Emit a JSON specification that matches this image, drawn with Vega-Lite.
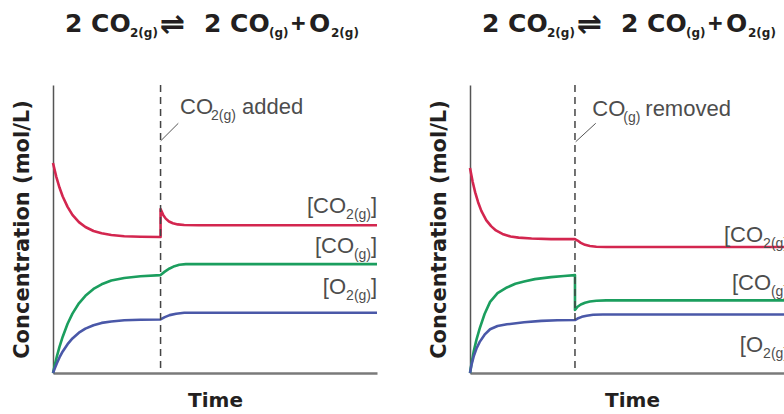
{
"$schema": "https://vega.github.io/schema/vega-lite/v6.json",
"background": "white",
"padding": {"left": 10, "top": 10, "right": 0, "bottom": 0},
"spacing": 48,
"config": {"view": {"stroke": null}, "axis": {"grid": false, "labels": false, "ticks": false, "titleFont": "DejaVu Sans", "titleFontWeight": "bold", "titleColor": "#231f20"}},
"datasets": {
"curves": [
{"p":"L","s":"CO2","i":0,"t":0,"c":7.29},{"p":"L","s":"CO2","i":1,"t":0.1,"c":6.82},{"p":"L","s":"CO2","i":2,"t":0.2,"c":6.44},{"p":"L","s":"CO2","i":3,"t":0.3,"c":6.13},{"p":"L","s":"CO2","i":4,"t":0.45,"c":5.77},{"p":"L","s":"CO2","i":5,"t":0.6,"c":5.49},{"p":"L","s":"CO2","i":6,"t":0.8,"c":5.24},{"p":"L","s":"CO2","i":7,"t":1.0,"c":5.07},{"p":"L","s":"CO2","i":8,"t":1.25,"c":4.93},{"p":"L","s":"CO2","i":9,"t":1.5,"c":4.85},{"p":"L","s":"CO2","i":10,"t":1.8,"c":4.79},{"p":"L","s":"CO2","i":11,"t":2.2,"c":4.75},{"p":"L","s":"CO2","i":12,"t":2.7,"c":4.73},{"p":"L","s":"CO2","i":13,"t":3.32,"c":4.72},{"p":"L","s":"CO2","i":14,"t":3.32,"c":5.69},{"p":"L","s":"CO2","i":15,"t":3.4,"c":5.49},{"p":"L","s":"CO2","i":16,"t":3.48,"c":5.36},{"p":"L","s":"CO2","i":17,"t":3.58,"c":5.26},{"p":"L","s":"CO2","i":18,"t":3.7,"c":5.2},{"p":"L","s":"CO2","i":19,"t":3.85,"c":5.16},{"p":"L","s":"CO2","i":20,"t":4.05,"c":5.14},{"p":"L","s":"CO2","i":21,"t":4.5,"c":5.13},{"p":"L","s":"CO2","i":22,"t":10,"c":5.13},
{"p":"L","s":"CO","i":0,"t":0,"c":0},{"p":"L","s":"CO","i":1,"t":0.05,"c":0.25},{"p":"L","s":"CO","i":2,"t":0.12,"c":0.58},{"p":"L","s":"CO","i":3,"t":0.2,"c":0.91},{"p":"L","s":"CO","i":4,"t":0.3,"c":1.26},{"p":"L","s":"CO","i":5,"t":0.45,"c":1.71},{"p":"L","s":"CO","i":6,"t":0.6,"c":2.06},{"p":"L","s":"CO","i":7,"t":0.8,"c":2.42},{"p":"L","s":"CO","i":8,"t":1.0,"c":2.68},{"p":"L","s":"CO","i":9,"t":1.25,"c":2.92},{"p":"L","s":"CO","i":10,"t":1.5,"c":3.08},{"p":"L","s":"CO","i":11,"t":1.8,"c":3.21},{"p":"L","s":"CO","i":12,"t":2.2,"c":3.3},{"p":"L","s":"CO","i":13,"t":2.7,"c":3.36},{"p":"L","s":"CO","i":14,"t":3.32,"c":3.4},{"p":"L","s":"CO","i":15,"t":3.45,"c":3.52},{"p":"L","s":"CO","i":16,"t":3.6,"c":3.63},{"p":"L","s":"CO","i":17,"t":3.75,"c":3.71},{"p":"L","s":"CO","i":18,"t":3.9,"c":3.76},{"p":"L","s":"CO","i":19,"t":4.1,"c":3.78},{"p":"L","s":"CO","i":20,"t":10,"c":3.78},
{"p":"L","s":"O2","i":0,"t":0,"c":0},{"p":"L","s":"O2","i":1,"t":0.05,"c":0.15},{"p":"L","s":"O2","i":2,"t":0.12,"c":0.34},{"p":"L","s":"O2","i":3,"t":0.2,"c":0.54},{"p":"L","s":"O2","i":4,"t":0.3,"c":0.75},{"p":"L","s":"O2","i":5,"t":0.45,"c":1.0},{"p":"L","s":"O2","i":6,"t":0.6,"c":1.2},{"p":"L","s":"O2","i":7,"t":0.8,"c":1.4},{"p":"L","s":"O2","i":8,"t":1.0,"c":1.54},{"p":"L","s":"O2","i":9,"t":1.25,"c":1.66},{"p":"L","s":"O2","i":10,"t":1.5,"c":1.74},{"p":"L","s":"O2","i":11,"t":1.8,"c":1.79},{"p":"L","s":"O2","i":12,"t":2.2,"c":1.83},{"p":"L","s":"O2","i":13,"t":2.7,"c":1.85},{"p":"L","s":"O2","i":14,"t":3.32,"c":1.86},{"p":"L","s":"O2","i":15,"t":3.45,"c":1.94},{"p":"L","s":"O2","i":16,"t":3.6,"c":2.01},{"p":"L","s":"O2","i":17,"t":3.8,"c":2.06},{"p":"L","s":"O2","i":18,"t":4.05,"c":2.09},{"p":"L","s":"O2","i":19,"t":10,"c":2.09},
{"p":"R","s":"CO2","i":0,"t":0,"c":7.12},{"p":"R","s":"CO2","i":1,"t":0.08,"c":6.65},{"p":"R","s":"CO2","i":2,"t":0.16,"c":6.27},{"p":"R","s":"CO2","i":3,"t":0.25,"c":5.93},{"p":"R","s":"CO2","i":4,"t":0.35,"c":5.63},{"p":"R","s":"CO2","i":5,"t":0.5,"c":5.31},{"p":"R","s":"CO2","i":6,"t":0.65,"c":5.1},{"p":"R","s":"CO2","i":7,"t":0.8,"c":4.95},{"p":"R","s":"CO2","i":8,"t":1.0,"c":4.83},{"p":"R","s":"CO2","i":9,"t":1.25,"c":4.74},{"p":"R","s":"CO2","i":10,"t":1.5,"c":4.7},{"p":"R","s":"CO2","i":11,"t":1.9,"c":4.67},{"p":"R","s":"CO2","i":12,"t":2.5,"c":4.65},{"p":"R","s":"CO2","i":13,"t":3.24,"c":4.65},{"p":"R","s":"CO2","i":14,"t":3.32,"c":4.6},{"p":"R","s":"CO2","i":15,"t":3.42,"c":4.52},{"p":"R","s":"CO2","i":16,"t":3.55,"c":4.45},{"p":"R","s":"CO2","i":17,"t":3.7,"c":4.41},{"p":"R","s":"CO2","i":18,"t":3.9,"c":4.385},{"p":"R","s":"CO2","i":19,"t":4.2,"c":4.375},{"p":"R","s":"CO2","i":20,"t":10,"c":4.375},
{"p":"R","s":"CO","i":0,"t":0,"c":0},{"p":"R","s":"CO","i":1,"t":0.05,"c":0.35},{"p":"R","s":"CO","i":2,"t":0.12,"c":0.78},{"p":"R","s":"CO","i":3,"t":0.2,"c":1.16},{"p":"R","s":"CO","i":4,"t":0.3,"c":1.55},{"p":"R","s":"CO","i":5,"t":0.45,"c":2.05},{"p":"R","s":"CO","i":6,"t":0.62,"c":2.47},{"p":"R","s":"CO","i":7,"t":0.85,"c":2.77},{"p":"R","s":"CO","i":8,"t":1.14,"c":2.97},{"p":"R","s":"CO","i":9,"t":1.4,"c":3.1},{"p":"R","s":"CO","i":10,"t":1.67,"c":3.18},{"p":"R","s":"CO","i":11,"t":2.0,"c":3.26},{"p":"R","s":"CO","i":12,"t":2.5,"c":3.33},{"p":"R","s":"CO","i":13,"t":2.9,"c":3.37},{"p":"R","s":"CO","i":14,"t":3.24,"c":3.4},{"p":"R","s":"CO","i":15,"t":3.24,"c":2.19},{"p":"R","s":"CO","i":16,"t":3.32,"c":2.3},{"p":"R","s":"CO","i":17,"t":3.42,"c":2.38},{"p":"R","s":"CO","i":18,"t":3.55,"c":2.44},{"p":"R","s":"CO","i":19,"t":3.7,"c":2.48},{"p":"R","s":"CO","i":20,"t":3.9,"c":2.51},{"p":"R","s":"CO","i":21,"t":4.2,"c":2.52},{"p":"R","s":"CO","i":22,"t":10,"c":2.52},
{"p":"R","s":"O2","i":0,"t":0,"c":0},{"p":"R","s":"O2","i":1,"t":0.05,"c":0.3},{"p":"R","s":"O2","i":2,"t":0.12,"c":0.6},{"p":"R","s":"O2","i":3,"t":0.2,"c":0.85},{"p":"R","s":"O2","i":4,"t":0.3,"c":1.08},{"p":"R","s":"O2","i":5,"t":0.45,"c":1.33},{"p":"R","s":"O2","i":6,"t":0.62,"c":1.52},{"p":"R","s":"O2","i":7,"t":0.85,"c":1.63},{"p":"R","s":"O2","i":8,"t":1.14,"c":1.69},{"p":"R","s":"O2","i":9,"t":1.67,"c":1.76},{"p":"R","s":"O2","i":10,"t":2.2,"c":1.81},{"p":"R","s":"O2","i":11,"t":2.7,"c":1.83},{"p":"R","s":"O2","i":12,"t":3.24,"c":1.84},{"p":"R","s":"O2","i":13,"t":3.32,"c":1.89},{"p":"R","s":"O2","i":14,"t":3.45,"c":1.95},{"p":"R","s":"O2","i":15,"t":3.6,"c":1.99},{"p":"R","s":"O2","i":16,"t":3.8,"c":2.02},{"p":"R","s":"O2","i":17,"t":4.1,"c":2.03},{"p":"R","s":"O2","i":18,"t":10,"c":2.03}
],
"events": [{"p":"L","t":3.32},{"p":"R","t":3.24}],
"leaders": [{"p":"L","t":3.324,"c":8.06,"t2":3.867,"c2":8.67},{"p":"R","t":3.262,"c":8.03,"t2":3.88,"c2":8.67}],
"notes": [{"p":"L","t":3.92,"c":8.99,"main":"CO","sub":"2(g)","tail":"added"},{"p":"R","t":3.775,"c":8.92,"main":"CO","sub":"(g)","tail":"removed"}],
"labels": [
{"p":"L","t":10,"c":5.545,"main":"[CO","sub":"2(g)","end":"]"},
{"p":"L","t":10,"c":4.156,"main":"[CO","sub":"(g)","end":"]"},
{"p":"L","t":10,"c":2.743,"main":"[O","sub":"2(g)","end":"]"},
{"p":"R","t":10,"c":4.56,"main":"[CO","sub":"2(g)","end":"]"},
{"p":"R","t":10,"c":2.88,"main":"[CO","sub":"(g)","end":"]"},
{"p":"R","t":10,"c":0.74,"main":"[O","sub":"2(g)","end":"]"}
]
},
"hconcat": [
{
"width": 324, "height": 288,
"layer": [
{"data": {"name": "curves"}, "transform": [{"filter": "datum.p === 'L'"}],
 "mark": {"type": "line", "strokeWidth": 2.6, "strokeJoin": "round"},
 "encoding": {
  "x": {"field": "t", "type": "quantitative", "scale": {"domain": [0, 10], "nice": false, "zero": false}, "axis": {"title": "Time", "domainColor": "#7a7a7a", "domainWidth": 2.5, "titleFontSize": 20, "titlePadding": 17}},
  "y": {"field": "c", "type": "quantitative", "scale": {"domain": [0, 10], "nice": false}, "axis": {"title": "Concentration (mol/L)", "domainColor": "#555555", "domainWidth": 1.5, "titleFontSize": 21, "titlePadding": 21}},
  "color": {"field": "s", "type": "nominal", "scale": {"domain": ["CO2", "CO", "O2"], "range": ["#d3264f", "#1b9e5e", "#4a58a8"]}, "legend": null},
  "order": {"field": "i", "type": "quantitative"}}},
{"data": {"name": "events"}, "transform": [{"filter": "datum.p === 'L'"}],
 "mark": {"type": "rule", "strokeDash": [7, 5], "color": "#444444", "strokeWidth": 1.5},
 "encoding": {"x": {"field": "t", "type": "quantitative"}}},
{"data": {"name": "leaders"}, "transform": [{"filter": "datum.p === 'L'"}],
 "mark": {"type": "rule", "color": "#555555", "strokeWidth": 1},
 "encoding": {"x": {"field": "t", "type": "quantitative"}, "y": {"field": "c", "type": "quantitative"}, "x2": {"field": "t2"}, "y2": {"field": "c2"}}},
{"data": {"name": "notes"}, "transform": [{"filter": "datum.p === 'L'"}],
 "mark": {"type": "text", "align": "left", "baseline": "alphabetic", "font": "Liberation Sans", "fontSize": 22, "color": "#4d4d4d"},
 "encoding": {"x": {"field": "t", "type": "quantitative"}, "y": {"field": "c", "type": "quantitative"}, "text": {"field": "main"}}},
{"data": {"name": "notes"}, "transform": [{"filter": "datum.p === 'L'"}],
 "mark": {"type": "text", "align": "left", "baseline": "alphabetic", "font": "Liberation Sans", "fontSize": 14, "dx": 31, "dy": 6, "color": "#4d4d4d"},
 "encoding": {"x": {"field": "t", "type": "quantitative"}, "y": {"field": "c", "type": "quantitative"}, "text": {"field": "sub"}}},
{"data": {"name": "notes"}, "transform": [{"filter": "datum.p === 'L'"}],
 "mark": {"type": "text", "align": "left", "baseline": "alphabetic", "font": "Liberation Sans", "fontSize": 22, "dx": 62, "color": "#4d4d4d"},
 "encoding": {"x": {"field": "t", "type": "quantitative"}, "y": {"field": "c", "type": "quantitative"}, "text": {"field": "tail"}}},
{"data": {"name": "labels"}, "transform": [{"filter": "datum.p === 'L'"}],
 "mark": {"type": "text", "align": "right", "baseline": "alphabetic", "font": "Liberation Sans", "fontSize": 22, "color": "#4d4d4d"},
 "encoding": {"x": {"field": "t", "type": "quantitative"}, "y": {"field": "c", "type": "quantitative"}, "text": {"field": "end"}}},
{"data": {"name": "labels"}, "transform": [{"filter": "datum.p === 'L'"}],
 "mark": {"type": "text", "align": "right", "baseline": "alphabetic", "font": "Liberation Sans", "fontSize": 14, "dx": -6, "dy": 6, "color": "#4d4d4d"},
 "encoding": {"x": {"field": "t", "type": "quantitative"}, "y": {"field": "c", "type": "quantitative"}, "text": {"field": "sub"}}},
{"data": {"name": "labels"}, "transform": [{"filter": "datum.p === 'L' && datum.sub === '2(g)'"}],
 "mark": {"type": "text", "align": "right", "baseline": "alphabetic", "font": "Liberation Sans", "fontSize": 22, "dx": -31, "color": "#4d4d4d"},
 "encoding": {"x": {"field": "t", "type": "quantitative"}, "y": {"field": "c", "type": "quantitative"}, "text": {"field": "main"}}},
{"data": {"name": "labels"}, "transform": [{"filter": "datum.p === 'L' && datum.sub === '(g)'"}],
 "mark": {"type": "text", "align": "right", "baseline": "alphabetic", "font": "Liberation Sans", "fontSize": 22, "dx": -23, "color": "#4d4d4d"},
 "encoding": {"x": {"field": "t", "type": "quantitative"}, "y": {"field": "c", "type": "quantitative"}, "text": {"field": "main"}}},
{"data": {"name": "events"}, "transform": [{"filter": "datum.p === 'L'"}],
 "mark": {"type": "text", "text": "2 CO", "align": "left", "baseline": "alphabetic", "font": "DejaVu Sans", "fontWeight": "bold", "fontSize": 25, "dx": -150, "dy": -53, "color": "#231f20"},
 "encoding": {"x": {"datum": 5}, "y": {"datum": 10}}},
{"data": {"name": "events"}, "transform": [{"filter": "datum.p === 'L'"}],
 "mark": {"type": "text", "text": "2(g)", "align": "left", "baseline": "alphabetic", "font": "DejaVu Sans", "fontWeight": "bold", "fontSize": 12, "dx": -85, "dy": -48, "color": "#231f20"},
 "encoding": {"x": {"datum": 5}, "y": {"datum": 10}}},
{"data": {"name": "events"}, "transform": [{"filter": "datum.p === 'L'"}],
 "mark": {"type": "text", "text": "⇌", "align": "left", "baseline": "alphabetic", "font": "DejaVu Sans", "fontWeight": "bold", "fontSize": 30, "dx": -55, "dy": -51, "color": "#231f20"},
 "encoding": {"x": {"datum": 5}, "y": {"datum": 10}}},
{"data": {"name": "events"}, "transform": [{"filter": "datum.p === 'L'"}],
 "mark": {"type": "text", "text": "2 CO", "align": "left", "baseline": "alphabetic", "font": "DejaVu Sans", "fontWeight": "bold", "fontSize": 25, "dx": -11, "dy": -53, "color": "#231f20"},
 "encoding": {"x": {"datum": 5}, "y": {"datum": 10}}},
{"data": {"name": "events"}, "transform": [{"filter": "datum.p === 'L'"}],
 "mark": {"type": "text", "text": "(g)", "align": "left", "baseline": "alphabetic", "font": "DejaVu Sans", "fontWeight": "bold", "fontSize": 12, "dx": 54, "dy": -48, "color": "#231f20"},
 "encoding": {"x": {"datum": 5}, "y": {"datum": 10}}},
{"data": {"name": "events"}, "transform": [{"filter": "datum.p === 'L'"}],
 "mark": {"type": "text", "text": "+", "align": "left", "baseline": "alphabetic", "font": "Liberation Sans", "fontWeight": "bold", "fontSize": 25, "dx": 76, "dy": -53, "color": "#231f20"},
 "encoding": {"x": {"datum": 5}, "y": {"datum": 10}}},
{"data": {"name": "events"}, "transform": [{"filter": "datum.p === 'L'"}],
 "mark": {"type": "text", "text": "O", "align": "left", "baseline": "alphabetic", "font": "DejaVu Sans", "fontWeight": "bold", "fontSize": 25, "dx": 94, "dy": -53, "color": "#231f20"},
 "encoding": {"x": {"datum": 5}, "y": {"datum": 10}}},
{"data": {"name": "events"}, "transform": [{"filter": "datum.p === 'L'"}],
 "mark": {"type": "text", "text": "2(g)", "align": "left", "baseline": "alphabetic", "font": "DejaVu Sans", "fontWeight": "bold", "fontSize": 12, "dx": 116, "dy": -48, "color": "#231f20"},
 "encoding": {"x": {"datum": 5}, "y": {"datum": 10}}}
]
},
{
"width": 324, "height": 288,
"layer": [
{"data": {"name": "curves"}, "transform": [{"filter": "datum.p === 'R'"}],
 "mark": {"type": "line", "strokeWidth": 2.6, "strokeJoin": "round"},
 "encoding": {
  "x": {"field": "t", "type": "quantitative", "scale": {"domain": [0, 10], "nice": false, "zero": false}, "axis": {"title": "Time", "domainColor": "#7a7a7a", "domainWidth": 2.5, "titleFontSize": 20, "titlePadding": 17}},
  "y": {"field": "c", "type": "quantitative", "scale": {"domain": [0, 10], "nice": false}, "axis": {"title": "Concentration (mol/L)", "domainColor": "#555555", "domainWidth": 1.5, "titleFontSize": 21, "titlePadding": 21}},
  "color": {"field": "s", "type": "nominal", "scale": {"domain": ["CO2", "CO", "O2"], "range": ["#d3264f", "#1b9e5e", "#4a58a8"]}, "legend": null},
  "order": {"field": "i", "type": "quantitative"}}},
{"data": {"name": "events"}, "transform": [{"filter": "datum.p === 'R'"}],
 "mark": {"type": "rule", "strokeDash": [7, 5], "color": "#444444", "strokeWidth": 1.5},
 "encoding": {"x": {"field": "t", "type": "quantitative"}}},
{"data": {"name": "leaders"}, "transform": [{"filter": "datum.p === 'R'"}],
 "mark": {"type": "rule", "color": "#555555", "strokeWidth": 1},
 "encoding": {"x": {"field": "t", "type": "quantitative"}, "y": {"field": "c", "type": "quantitative"}, "x2": {"field": "t2"}, "y2": {"field": "c2"}}},
{"data": {"name": "notes"}, "transform": [{"filter": "datum.p === 'R'"}],
 "mark": {"type": "text", "align": "left", "baseline": "alphabetic", "font": "Liberation Sans", "fontSize": 22, "color": "#4d4d4d"},
 "encoding": {"x": {"field": "t", "type": "quantitative"}, "y": {"field": "c", "type": "quantitative"}, "text": {"field": "main"}}},
{"data": {"name": "notes"}, "transform": [{"filter": "datum.p === 'R'"}],
 "mark": {"type": "text", "align": "left", "baseline": "alphabetic", "font": "Liberation Sans", "fontSize": 14, "dx": 31, "dy": 6, "color": "#4d4d4d"},
 "encoding": {"x": {"field": "t", "type": "quantitative"}, "y": {"field": "c", "type": "quantitative"}, "text": {"field": "sub"}}},
{"data": {"name": "notes"}, "transform": [{"filter": "datum.p === 'R'"}],
 "mark": {"type": "text", "align": "left", "baseline": "alphabetic", "font": "Liberation Sans", "fontSize": 22, "dx": 53, "color": "#4d4d4d"},
 "encoding": {"x": {"field": "t", "type": "quantitative"}, "y": {"field": "c", "type": "quantitative"}, "text": {"field": "tail"}}},
{"data": {"name": "labels"}, "transform": [{"filter": "datum.p === 'R'"}],
 "mark": {"type": "text", "align": "right", "baseline": "alphabetic", "font": "Liberation Sans", "fontSize": 22, "color": "#4d4d4d"},
 "encoding": {"x": {"field": "t", "type": "quantitative"}, "y": {"field": "c", "type": "quantitative"}, "text": {"field": "end"}}},
{"data": {"name": "labels"}, "transform": [{"filter": "datum.p === 'R'"}],
 "mark": {"type": "text", "align": "right", "baseline": "alphabetic", "font": "Liberation Sans", "fontSize": 14, "dx": -6, "dy": 6, "color": "#4d4d4d"},
 "encoding": {"x": {"field": "t", "type": "quantitative"}, "y": {"field": "c", "type": "quantitative"}, "text": {"field": "sub"}}},
{"data": {"name": "labels"}, "transform": [{"filter": "datum.p === 'R' && datum.sub === '2(g)'"}],
 "mark": {"type": "text", "align": "right", "baseline": "alphabetic", "font": "Liberation Sans", "fontSize": 22, "dx": -31, "color": "#4d4d4d"},
 "encoding": {"x": {"field": "t", "type": "quantitative"}, "y": {"field": "c", "type": "quantitative"}, "text": {"field": "main"}}},
{"data": {"name": "labels"}, "transform": [{"filter": "datum.p === 'R' && datum.sub === '(g)'"}],
 "mark": {"type": "text", "align": "right", "baseline": "alphabetic", "font": "Liberation Sans", "fontSize": 22, "dx": -23, "color": "#4d4d4d"},
 "encoding": {"x": {"field": "t", "type": "quantitative"}, "y": {"field": "c", "type": "quantitative"}, "text": {"field": "main"}}},
{"data": {"name": "events"}, "transform": [{"filter": "datum.p === 'R'"}],
 "mark": {"type": "text", "text": "2 CO", "align": "left", "baseline": "alphabetic", "font": "DejaVu Sans", "fontWeight": "bold", "fontSize": 25, "dx": -150, "dy": -53, "color": "#231f20"},
 "encoding": {"x": {"datum": 5}, "y": {"datum": 10}}},
{"data": {"name": "events"}, "transform": [{"filter": "datum.p === 'R'"}],
 "mark": {"type": "text", "text": "2(g)", "align": "left", "baseline": "alphabetic", "font": "DejaVu Sans", "fontWeight": "bold", "fontSize": 12, "dx": -85, "dy": -48, "color": "#231f20"},
 "encoding": {"x": {"datum": 5}, "y": {"datum": 10}}},
{"data": {"name": "events"}, "transform": [{"filter": "datum.p === 'R'"}],
 "mark": {"type": "text", "text": "⇌", "align": "left", "baseline": "alphabetic", "font": "DejaVu Sans", "fontWeight": "bold", "fontSize": 30, "dx": -55, "dy": -51, "color": "#231f20"},
 "encoding": {"x": {"datum": 5}, "y": {"datum": 10}}},
{"data": {"name": "events"}, "transform": [{"filter": "datum.p === 'R'"}],
 "mark": {"type": "text", "text": "2 CO", "align": "left", "baseline": "alphabetic", "font": "DejaVu Sans", "fontWeight": "bold", "fontSize": 25, "dx": -11, "dy": -53, "color": "#231f20"},
 "encoding": {"x": {"datum": 5}, "y": {"datum": 10}}},
{"data": {"name": "events"}, "transform": [{"filter": "datum.p === 'R'"}],
 "mark": {"type": "text", "text": "(g)", "align": "left", "baseline": "alphabetic", "font": "DejaVu Sans", "fontWeight": "bold", "fontSize": 12, "dx": 54, "dy": -48, "color": "#231f20"},
 "encoding": {"x": {"datum": 5}, "y": {"datum": 10}}},
{"data": {"name": "events"}, "transform": [{"filter": "datum.p === 'R'"}],
 "mark": {"type": "text", "text": "+", "align": "left", "baseline": "alphabetic", "font": "Liberation Sans", "fontWeight": "bold", "fontSize": 25, "dx": 76, "dy": -53, "color": "#231f20"},
 "encoding": {"x": {"datum": 5}, "y": {"datum": 10}}},
{"data": {"name": "events"}, "transform": [{"filter": "datum.p === 'R'"}],
 "mark": {"type": "text", "text": "O", "align": "left", "baseline": "alphabetic", "font": "DejaVu Sans", "fontWeight": "bold", "fontSize": 25, "dx": 94, "dy": -53, "color": "#231f20"},
 "encoding": {"x": {"datum": 5}, "y": {"datum": 10}}},
{"data": {"name": "events"}, "transform": [{"filter": "datum.p === 'R'"}],
 "mark": {"type": "text", "text": "2(g)", "align": "left", "baseline": "alphabetic", "font": "DejaVu Sans", "fontWeight": "bold", "fontSize": 12, "dx": 116, "dy": -48, "color": "#231f20"},
 "encoding": {"x": {"datum": 5}, "y": {"datum": 10}}}
]
}
]
}
